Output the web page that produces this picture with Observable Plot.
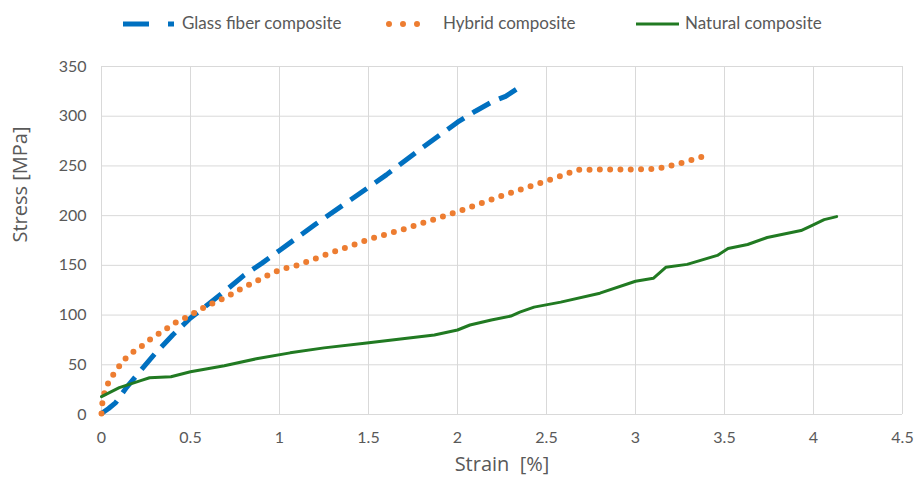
<!DOCTYPE html>
<html>
<head>
<meta charset="utf-8">
<script src="https://cdn.jsdelivr.net/npm/d3@7"></script>
<script src="https://cdn.jsdelivr.net/npm/@observablehq/plot@0.6"></script>
<style>
  html, body { margin: 0; padding: 0; background: #ffffff; }
  #wrap { width: 915px; height: 482px; position: relative; overflow: hidden; }
  #legend { position: relative; height: 45px; font-family: Lato, sans-serif; font-size: 17px; color: #595959; }
  #legend .lab { position: absolute; top: 13px; white-space: nowrap; line-height: 20px; }
  #legend svg { position: absolute; }
</style>
</head>
<body>
<div id="wrap">
  <div id="legend"></div>
  <div id="chart"></div>
</div>
<script>
// ---- data ----
const seriesNames = ["Glass fiber composite", "Hybrid composite", "Natural composite"];

const glassStrain = [0, 0.04, 0.08, 0.14, 0.2, 0.3, 0.4, 0.5, 0.6, 0.7, 0.8, 0.9, 1.0, 1.2, 1.4, 1.6, 1.8, 2.0, 2.1, 2.2, 2.27, 2.33];
const glassStress = [1, 6, 12, 27, 40, 61, 80, 97, 111, 125, 140, 152, 165, 191, 216, 241, 268, 294, 305, 315, 320, 327];

const hybridStrain = [0, 0.005, 0.02, 0.05, 0.09, 0.12, 0.17, 0.22, 0.27, 0.32, 0.37, 0.42, 0.48, 0.53, 0.58, 0.64, 0.70, 0.75, 0.80, 0.86, 0.91, 0.97, 1.03, 1.10, 1.16, 1.22, 1.28, 1.5, 1.71, 2.0, 2.25, 2.5, 2.6, 2.67, 2.8, 3.0, 3.12, 3.19, 3.28, 3.38];
const hybridStress = [1, 12, 25, 36, 46, 54, 62, 68, 75, 81, 87, 93, 98, 103, 108, 113, 118, 123, 128, 133, 138, 143, 147, 150, 154, 158, 162, 176, 187, 204, 220, 235, 241, 246, 246.5, 246.5, 247, 250, 254, 259.5];

const naturalStrain = [0, 0.1, 0.22, 0.27, 0.39, 0.5, 0.69, 0.87, 1.06, 1.25, 1.49, 1.68, 1.87, 2.0, 2.07, 2.19, 2.30, 2.35, 2.43, 2.58, 2.80, 3.0, 3.10, 3.17, 3.29, 3.46, 3.52, 3.63, 3.74, 3.93, 3.99, 4.06, 4.13];
const naturalStress = [18, 27, 34, 37, 38, 43, 49, 56, 62, 67, 72, 76, 80, 85, 90, 95, 99, 103, 108, 113, 122, 134, 137, 148, 151, 160, 167, 171, 178, 185, 190, 196, 199];

const xTicks = [0, 0.5, 1, 1.5, 2, 2.5, 3, 3.5, 4, 4.5];
const yTicks = [0, 50, 100, 150, 200, 250, 300, 350];
const xTitle = "Strain  [%]";
const yTitle = "Stress [MPa]";

const colors = {glass: "#0070C0", hybrid: "#ED7D31", natural: "#217A22"};

const toRows = (xs, ys) => xs.map((x, i) => ({x, y: ys[i]}));
const glassRows = toRows(glassStrain, glassStress);
const hybridRows = toRows(hybridStrain, hybridStress);
const naturalRows = toRows(naturalStrain, naturalStress);

// ---- legend ----
const legend = document.getElementById("legend");
const legendItems = [
  {name: seriesNames[0], left: 123, w: 52, textLeft: 182, line: `<line x1="0" y1="5" x2="52" y2="5" stroke="${colors.glass}" stroke-width="5" stroke-dasharray="26,19,6,100"/>`},
  {name: seriesNames[1], left: 385, w: 50, textLeft: 443, line: `<line x1="4" y1="5" x2="46" y2="5" stroke="${colors.hybrid}" stroke-width="6" stroke-linecap="round" stroke-dasharray="0,14"/>`},
  {name: seriesNames[2], left: 636, w: 44, textLeft: 685, line: `<line x1="0" y1="5" x2="43" y2="5" stroke="${colors.natural}" stroke-width="3"/>`}
];
for (const it of legendItems) {
  legend.insertAdjacentHTML("beforeend",
    `<svg style="left:${it.left}px;top:19px" width="${it.w}" height="10">${it.line}</svg>` +
    `<span class="lab" style="left:${it.textLeft}px">${it.name}</span>`);
}

// ---- chart ----
const chart = Plot.plot({
  width: 915,
  height: 437,
  marginLeft: 101,
  marginRight: 13,
  marginTop: 21,
  marginBottom: 68,
  style: {fontFamily: "Lato, sans-serif", fontSize: "16px", color: "#595959", background: "#ffffff", overflow: "visible"},
  x: {domain: [0, 4.5]},
  y: {domain: [0, 350]},
  marks: [
    Plot.gridX(xTicks, {stroke: "#d9d9d9", strokeOpacity: 1, strokeWidth: 1}),
    Plot.gridY(yTicks, {stroke: "#d9d9d9", strokeOpacity: 1, strokeWidth: 1}),
    Plot.axisX({ticks: xTicks, tickSize: 0, tickPadding: 17, label: null, tickFormat: d => String(d), fill: "#595959"}),
    Plot.axisY({ticks: yTicks, tickSize: 0, tickPadding: 15, label: null, tickFormat: d => String(d), fill: "#595959"}),
    Plot.line(glassRows, {x: "x", y: "y", stroke: colors.glass, strokeWidth: 5, strokeDasharray: "20,10", strokeLinecap: "butt", strokeLinejoin: "round"}),
    Plot.line(hybridRows, {x: "x", y: "y", stroke: colors.hybrid, strokeWidth: 6, strokeDasharray: "0,10.3", strokeLinecap: "round"}),
    Plot.line(naturalRows, {x: "x", y: "y", stroke: colors.natural, strokeWidth: 3, strokeLinejoin: "round"}),
    Plot.text([xTitle], {frameAnchor: "bottom", dy: 56, fontSize: 20, fontFamily: "'Open Sans', sans-serif", fill: "#595959"}),
    Plot.text([yTitle], {frameAnchor: "left", textAnchor: "middle", dx: -81, dy: -56, rotate: -90, fontSize: 20, fontFamily: "'Open Sans', sans-serif", fill: "#595959"})
  ]
});
document.getElementById("chart").appendChild(chart);
</script>
</body>
</html>
